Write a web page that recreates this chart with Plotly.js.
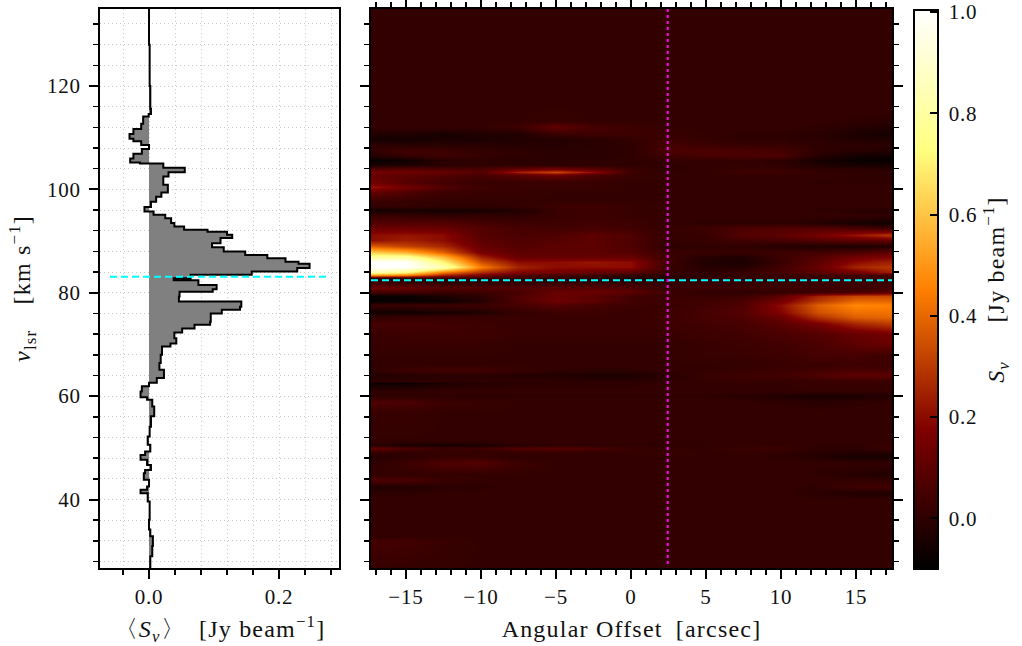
<!DOCTYPE html>
<html><head><meta charset="utf-8">
<script src="https://cdn.plot.ly/plotly-3.0.1.min.js"></script>
<style>html,body{margin:0;padding:0;background:#fff}#chart{width:1022px;height:646px}
svg text{letter-spacing:.8px}
.xtitle,.x2title,.ytitle,.cbtitle text{letter-spacing:1.2px}
</style>
</head><body><div id="chart"></div>
<script>
// spectrum: velocity (km/s) and mean flux (Jy/beam)
const specV = [135,128,120,116,115.6,114.6,114.1,112.7,111.7,110.7,109.8,109.3,108.6,107.8,106.9,106,105.2,105,104.2,103.3,102.5,100.9,99.9,99.4,98.6,97.6,96.6,95.7,95.1,94.4,93.5,92.8,92.2,91.8,91.2,90.6,89.6,88.8,88,87.3,86.7,86,85.6,84.8,84.1,83.5,82.8,82.4,81.5,80.7,80.2,79.3,78.3,77.3,76.7,76,74.4,73.8,73.1,72.3,71.2,70.2,69.6,68,66.4,65.1,64.1,63.5,62.6,61.9,60.9,59.8,59.3,58,56.1,54.1,52.2,50.6,49.3,48.6,47.7,46.7,45.7,45.1,43.8,42.5,41.9,41.2,39.6,36.1,34.2,32.9,31,29,26.7];
const specS = [0,.001,.002,.002,.003,-.0005,-.009,-.012,-.024,-.03,-.024,-.012,0,-.011,-.024,-.029,-.014,.022,.055,.03,.022,.029,.029,.019,.011,.003,-.007,.007,.025,.034,.039,.054,.09,.12,.128,.11,.097,.115,.148,.182,.21,.23,.247,.228,.158,.064,.038,.076,.104,.098,.047,.046,.142,.14,.112,.095,.094,.07,.051,.039,.042,.033,.02,.018,.016,.023,.023,.012,0,-.011,-.013,-.003,.005,.008,.003,.001,-.002,.002,-.006,-.013,-.003,.003,-.006,-.008,0,-.003,-.013,-.002,.001,0,.002,.006,.005,.002,0];

// position-velocity map: offsets (arcsec), velocities (km/s), flux rows (Jy/beam)
const offsets = [-17.5,-15,-12.5,-10,-7.5,-5,-2.5,0,2.5,5,7.5,10,12.5,15,17.5];
const pvVelocity = [26,32,33,40,41.3,42.5,43.8,45,47,48.2,49,50,50.6,51.5,57,58.9,60,61,62.5,63,64.1,65,66,68,70,72,74,75.3,76.3,77.6,78.5,79.4,80.2,81,82,82.8,83.5,84,85,86,87,87.9,89,90.2,91.2,92.5,93.5,95,96,96.8,98,99.5,100.4,101.5,102.7,103.4,103.9,104.8,105.6,106.5,107.5,108.5,109.8,110.7,112,113.2,116,136];
const pvFlux = [
[.01,.01,.01,.01,.01,.01,.01,.01,.01,.01,.01,.01,.01,.01,.01],
[.05,.04,.02,.01,.01,.01,.01,.01,.01,.01,.01,.01,.01,.01,.01],
[.01,.01,.01,.01,.01,.01,.01,.01,.01,.01,.01,.01,.01,.01,.01],
[.01,.01,.01,.01,.01,.01,.01,.01,.01,.01,.01,.01,.01,.01,.01],
[0,0,.01,.01,.01,.01,.01,.01,.01,.01,.01,.01,-.01,-.03,-.03],
[-.03,-.03,-.01,0,.01,.01,.01,.01,.01,.01,.01,.01,0,.03,.04],
[.06,.06,.02,.01,.01,.01,.01,.01,.01,.01,.01,.01,.01,.01,.01],
[.01,.01,.01,.01,.01,.01,.01,.01,.01,.01,.01,.01,0,-.02,-.03],
[0,.03,.07,.08,.03,.01,.01,.01,.01,.01,.01,.01,.01,.01,.01],
[-.02,0,.02,.02,0,.01,.01,.01,.01,.01,.01,0,-.02,-.05,-.05],
[0,0,.01,.01,.01,.01,.01,.01,.02,.01,.01,0,-.02,-.03,-.03],
[.12,.06,.02,.03,.07,.08,.06,.02,.01,.01,.02,.03,0,0,.03],
[-.01,-.04,-.05,-.04,-.01,0,0,0,0,0,.01,.01,0,0,.02],
[.01,.01,.01,.01,.01,.01,.01,.01,.01,.01,.01,.01,.01,.01,.01],
[.02,.02,.01,.01,.01,.01,.01,.01,.01,.01,.01,.01,.01,.01,.01],
[.07,.06,.03,.02,.01,.01,.01,.01,.01,.01,.01,0,-.01,0,.01],
[0,0,0,0,0,0,0,0,0,0,-.01,-.03,-.05,-.04,-.02],
[0,0,.01,.01,.01,.01,.01,.01,.01,.01,.01,.01,.01,.01,.01],
[-.07,-.07,-.04,-.02,-.01,0,0,0,.01,.01,.01,.01,.02,.02,.02],
[0,0,0,0,0,0,-.01,-.01,0,.01,.02,.01,.02,.03,.02],
[-.03,-.02,-.01,-.01,-.02,-.03,-.04,-.04,-.01,.02,.03,.04,.07,.1,.1],
[0,.03,.04,.04,.02,0,0,0,.01,.01,.02,.03,.04,.06,.05],
[0,.01,.01,.01,.01,.01,.01,.01,.01,.01,.01,.02,.02,.03,.03],
[.01,.01,.01,.01,.01,.01,.01,.01,.01,.02,.02,.03,.05,.05,.03],
[.02,.02,.02,.02,.01,.01,.01,.01,.01,.02,.03,.04,.06,.1,.13],
[.02,.03,.03,.03,.02,.02,.02,.02,.02,.03,.04,.06,.08,.12,.15],
[.05,.05,.04,.03,.02,.02,.02,.02,.03,.04,.05,.09,.15,.25,.3],
[0,.02,.02,.02,.02,.02,.02,.02,.03,.05,.07,.13,.28,.38,.4],
[-.06,-.06,-.05,-.03,.01,.03,.03,.02,.03,.05,.08,.18,.35,.42,.42],
[.02,.03,.03,.03,.05,.08,.05,.03,.02,.04,.07,.2,.38,.47,.45],
[-.09,-.08,-.07,-.02,.07,.13,.1,.04,.03,.04,.06,.15,.3,.4,.4],
[-.09,-.08,-.04,0,.07,.13,.1,.04,.02,.02,.03,.1,.25,.33,.33],
[.05,.04,.02,.03,.05,.12,.13,.1,.03,0,0,.01,.03,.05,.1],
[.13,.12,.08,.07,.08,.09,.09,.07,.02,.03,.03,.03,.03,.03,.05],
[.03,.02,0,0,.01,.01,.01,.01,.01,.01,.01,.02,.02,.03,.03],
[-.02,-.01,0,0,.01,0,-.02,-.04,-.02,.01,.02,.02,.02,.03,.03],
[.5,.45,.25,.15,.08,.05,.03,.01,0,0,.01,.02,.03,.04,.05],
[.85,.75,.45,.28,.18,.15,.12,.1,.02,0,.02,.05,.1,.15,.25],
[1,1,.85,.45,.25,.2,.2,.2,.02,-.02,-.02,.04,.12,.25,.3],
[1,1,.72,.35,.2,.2,.22,.2,.03,-.03,-.04,.02,.1,.2,.25],
[.8,.8,.58,.25,.12,.12,.12,.12,.03,-.02,-.03,.03,.08,.15,.18],
[.62,.55,.38,.15,.1,.1,.1,.08,.02,.02,.02,.03,.04,.06,.1],
[.38,.32,.26,.12,.08,.1,.1,.07,0,0,0,-.02,-.03,-.04,-.03],
[.2,.24,.2,.1,.07,.08,.1,.07,.01,.02,.04,.05,.08,.1,.12],
[.2,.22,.2,.08,.06,.07,.1,.07,.01,.02,.08,.1,.15,.22,.3],
[.13,.13,.12,.08,.05,.04,.05,.04,.01,.03,.06,.07,.08,.06,.02],
[.08,.08,.08,.05,.03,.03,.04,.03,.01,0,0,0,-.02,-.05,-.06],
[.02,.01,0,0,0,.02,.03,.02,.01,.01,.01,.01,.01,.01,0],
[-.06,-.05,-.06,-.05,-.03,.02,.03,.02,.01,.01,.01,.01,0,-.01,-.02],
[.01,.01,0,0,.01,.03,.03,.02,.01,.01,.01,.01,.01,.01,.01],
[.03,.02,.01,.01,.01,.01,.01,.01,.01,.01,.01,.01,.01,.01,.01],
[.12,.07,.03,.02,.02,.01,.01,.01,.01,.01,.01,.01,.01,.01,.01],
[.22,.15,.08,.03,.02,.02,.02,.01,.01,.01,.01,.01,.01,.01,.01],
[.15,.08,.04,.02,.02,.02,.02,.01,.01,.01,.01,.01,0,0,0],
[.12,.1,.08,.05,.09,.13,.06,.02,.01,.01,.01,.01,.01,0,0],
[.15,.14,.12,.08,.24,.33,.2,.03,0,.01,.03,.03,.01,0,0],
[.08,.09,.07,.06,.12,.15,.1,.03,0,.01,.02,.02,0,0,-.02],
[-.04,-.03,-.01,0,0,0,0,0,0,.01,.01,0,-.03,-.05,-.05],
[-.09,-.07,-.01,0,-.01,-.01,0,0,.01,.01,.01,0,-.05,-.08,-.09],
[-.03,.01,.03,.01,0,-.01,-.01,0,.03,.05,.06,.06,-.02,-.06,-.07],
[0,.04,.03,.01,0,-.01,-.01,0,.06,.07,.06,.05,0,-.02,-.03],
[0,-.01,-.01,-.01,-.02,-.02,-.01,0,.05,.03,.02,.02,0,0,-.01],
[-.05,-.06,-.04,-.04,-.03,-.02,-.01,.01,.03,.01,0,0,-.01,-.03,-.03],
[-.03,-.03,-.05,-.03,-.03,.02,.03,.03,.02,.01,0,0,-.01,-.04,-.06],
[.01,.01,.01,.01,.03,.11,.05,.03,.01,.01,.01,.01,0,-.02,-.03],
[0,.01,.01,.01,.01,.02,.01,.01,.01,.01,.01,.01,.01,0,-.01],
[.01,.01,.01,.01,.01,.01,.01,.01,.01,.01,.01,.01,.01,.01,.01],
[.01,.01,.01,.01,.01,.01,.01,.01,.01,.01,.01,.01,.01,.01,.01]
];

const W = 1022, H = 646;
const FONT = '"Liberation Serif", serif';
const fx = p => p / W, fy = p => 1 - p / H;
const afmhot = [[0,'rgb(0,0,0)'],[.25,'rgb(128,0,0)'],[.5,'rgb(255,128,0)'],[.75,'rgb(255,255,128)'],[1,'rgb(255,255,255)']];
const spine = {showline:true, linecolor:'#000', linewidth:2, zeroline:false};
const tickF = {family:FONT, size:21, color:'#111'};
const titleF = {family:FONT, size:24, color:'#111'};
const majorT = {ticks:'outside', ticklen:9, tickwidth:2, tickcolor:'#000'};
const GRIDDASH = '1px,3px';
const minorOf = (d, grid) => ({dtick:d, ticks:'outside', ticklen:5, tickwidth:1.5, tickcolor:'#000', showgrid:grid, gridcolor:'#c8c8c8', griddash:GRIDDASH, gridwidth:1});

const traces = [
 {type:'scatter', x:specS, y:specV, xaxis:'x', yaxis:'y', mode:'lines', line:{color:'#000', width:2, shape:'vh'}, fill:'tozerox', fillcolor:'#808080', hoverinfo:'skip', showlegend:false},
 {type:'heatmap', x:offsets, y:pvVelocity, z:pvFlux, xaxis:'x2', yaxis:'y2', zmin:-0.1, zmax:1.004, zsmooth:'best', colorscale:afmhot,
  colorbar:{x:fx(914), xanchor:'left', y:fy(569), yanchor:'bottom', len:559, lenmode:'pixels', thickness:24, thicknessmode:'pixels', xpad:0, ypad:0, outlinewidth:2, outlinecolor:'#000',
   ticks:'inside', ticklen:9, tickwidth:2, tickcolor:'#000', tick0:0, dtick:0.2, tickformat:'.1f', tickfont:tickF, tickprefix:'\u2009',
   title:{text:'<i>S<sub>ν</sub></i>\u2003\u2002[Jy beam<sup>−1</sup>]', side:'right', font:titleF}}}
];

const layout = {
 width:W, height:H, margin:{l:0,r:0,t:0,b:0}, paper_bgcolor:'#fff', plot_bgcolor:'#fff', showlegend:false, font:{family:FONT, color:'#111'},
 xaxis:{...spine, ...majorT, domain:[fx(100),fx(339)], range:[-0.0754,0.2923], anchor:'y', mirror:true, tickvals:[0,0.2], ticktext:['0.0','0.2'], tickfont:tickF, showgrid:true, gridcolor:'#c8c8c8', griddash:GRIDDASH, minor:minorOf(0.04,true),
  title:{text:'〈<i>S<sub>ν</sub></i>〉\u2002[Jy beam<sup>−1</sup>]', font:titleF, standoff:12}},
 yaxis:{...spine, ...majorT, domain:[fy(568),fy(9)], range:[26.75,134.9], anchor:'x', mirror:true, tick0:0, dtick:20, tickfont:tickF, ticklabelstandoff:4, showgrid:true, gridcolor:'#c8c8c8', griddash:GRIDDASH, minor:minorOf(4,true),
  title:{text:'<i>v</i><sub>lsr</sub>\u2003[km s<sup>−1</sup>]\u2002', font:titleF, standoff:9}},
 xaxis2:{...spine, ...majorT, domain:[fx(371),fx(892)], range:[-17.33,17.4], anchor:'y2', mirror:'ticks', tick0:0, dtick:5, tickfont:tickF, showgrid:false, minor:minorOf(1,false),
  title:{text:'Angular Offset\u2002[arcsec]', font:titleF, standoff:12}},
 yaxis2:{...spine, ...majorT, domain:[fy(568),fy(9)], range:[26.75,134.9], anchor:'x2', mirror:'ticks', tick0:0, dtick:20, showticklabels:false, showgrid:false, minor:minorOf(4,false)},
 xaxis3:{domain:[fx(914),fx(938)], range:[0,1], anchor:'y3', visible:false, fixedrange:true},
 yaxis3:{domain:[fy(569),fy(10)], range:[-0.1,1.004], anchor:'x3', side:'left', showline:false, zeroline:false, showgrid:false, ticks:'inside', ticklen:9, tickwidth:2, tickcolor:'#000', tick0:0, dtick:0.2, showticklabels:false, fixedrange:true},
 shapes:[
  {type:'line', xref:'x', yref:'y', x0:-0.06, x1:0.278, y0:83.1, y1:83.1, line:{color:'#00ffff', width:2, dash:'7px,4px'}},
  {type:'line', xref:'x2', yref:'y2', x0:-17.33, x1:17.4, y0:82.4, y1:82.4, line:{color:'#00ffff', width:2, dash:'7px,4px'}},
  {type:'line', xref:'x2', yref:'y2', x0:2.45, x1:2.45, y0:27.5, y1:134.9, line:{color:'#ff00ff', width:2, dash:'3px,3px'}}
 ]
};
Plotly.newPlot('chart', traces, layout, {displayModeBar:false, staticPlot:true});
</script></body></html>
